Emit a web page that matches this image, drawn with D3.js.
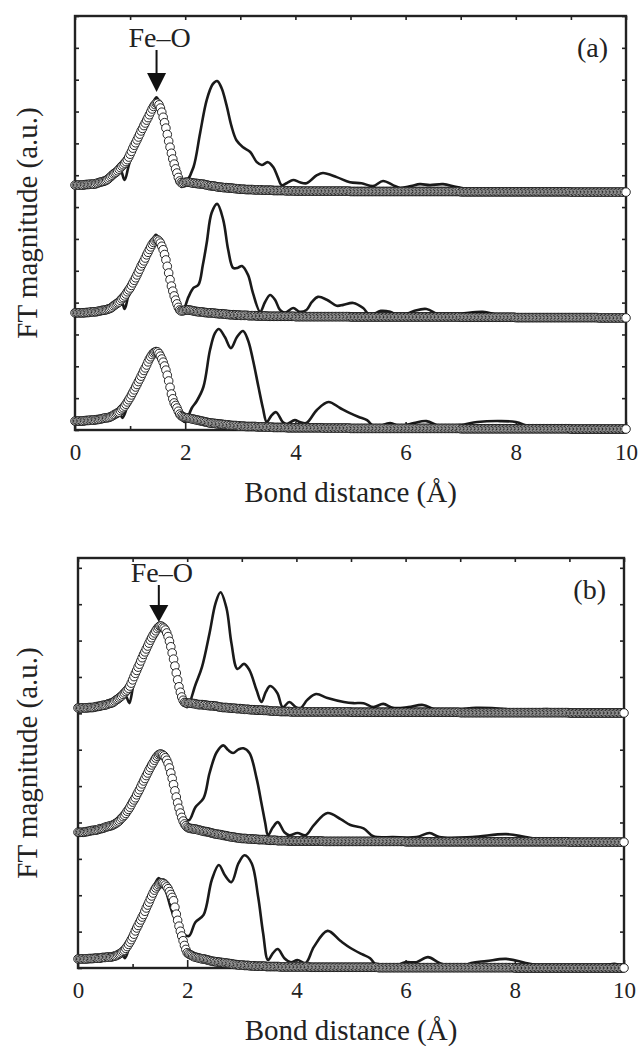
<!DOCTYPE html>
<html>
<head>
<meta charset="utf-8">
<script src="https://cdn.jsdelivr.net/npm/d3@7"></script>
<style>
  body { margin: 0; background: #fff; }
  svg text { font-family: "Liberation Serif", "Times New Roman", Times, "DejaVu Serif", serif; fill: #222; }
</style>
</head>
<body>
<script>
// bond distance grid of the fitted (circle) series, in Å
var fitStep = 0.025
var xTickLabels = [0, 2, 4, 6, 8, 10]
var xMinorTicks = [1, 3, 5, 7, 9]

// vertical offsets of the stacked spectra (bottom, middle, top)
var aOffsets = [0.03, 3.52, 7.47]
var bOffsets = [0.00, 3.46, 7.01]

// ---- panel (a): fitted Fe-O shell (circles), one value every fitStep, 0..10 Å
var aBotFit = [
  0.25,0.25,0.25,0.25,0.25,0.25,0.25,0.26,0.27,0.27,
  0.27,0.28,0.28,0.28,0.28,0.29,0.30,0.30,0.31,0.32,
  0.33,0.34,0.35,0.35,0.36,0.37,0.39,0.41,0.44,0.46,
  0.49,0.51,0.53,0.58,0.63,0.67,0.72,0.78,0.85,0.92,
  0.99,1.07,1.15,1.23,1.32,1.40,1.49,1.57,1.66,1.75,
  1.84,1.92,2.01,2.11,2.20,2.27,2.34,2.39,2.42,2.43,
  2.42,2.37,2.29,2.20,2.10,1.98,1.85,1.69,1.51,1.31,
  1.10,0.95,0.82,0.74,0.66,0.56,0.47,0.42,0.39,0.37,
  0.36,0.35,0.35,0.34,0.33,0.32,0.31,0.30,0.29,0.28,
  0.27,0.26,0.25,0.24,0.23,0.22,0.21,0.20,0.19,0.19,
  0.18,0.18,0.17,0.17,0.16,0.16,0.15,0.15,0.14,0.14,
  0.13,0.13,0.12,0.12,0.11,0.11,0.11,0.11,0.10,0.10,
  0.09,0.09,0.09,0.09,0.08,0.08,0.08,0.08,0.08,0.08,
  0.08,0.08,0.07,0.07,0.07,0.07,0.07,0.07,0.06,0.06,
  0.06,0.06,0.06,0.06,0.05,0.05,0.05,0.05,0.05,0.05,
  0.05,0.05,0.05,0.05,0.04,0.04,0.04,0.04,0.04,0.04,
  0.04,0.04,0.04,0.04,0.04,0.04,0.04,0.04,0.04,0.04,
  0.04,0.04,0.04,0.04,0.04,0.04,0.04,0.04,0.04,0.04,
  0.03,0.03,0.03,0.03,0.03,0.03,0.03,0.03,0.03,0.03,
  0.03,0.03,0.03,0.03,0.03,0.03,0.03,0.03,0.03,0.03,
  0.02,0.02,0.02,0.02,0.02,0.02,0.02,0.02,0.02,0.02,
  0.02,0.02,0.02,0.02,0.02,0.02,0.02,0.02,0.02,0.02,
  0.02,0.02,0.02,0.02,0.02,0.02,0.02,0.02,0.02,0.02,
  0.02,0.02,0.02,0.02,0.02,0.02,0.02,0.02,0.02,0.02,
  0.02,0.02,0.02,0.02,0.02,0.02,0.02,0.02,0.02,0.02,
  0.02,0.02,0.02,0.02,0.02,0.02,0.02,0.02,0.02,0.02,
  0.02,0.02,0.02,0.02,0.02,0.02,0.02,0.02,0.02,0.02,
  0.02,0.02,0.02,0.02,0.02,0.02,0.02,0.02,0.02,0.02,
  0.01,0.01,0.01,0.01,0.01,0.01,0.01,0.01,0.01,0.01,
  0.01,0.01,0.01,0.01,0.01,0.01,0.01,0.01,0.01,0.01,
  0.01,0.01,0.01,0.01,0.01,0.01,0.01,0.01,0.01,0.01,
  0.01,0.01,0.01,0.01,0.01,0.01,0.01,0.01,0.01,0.01,
  0.01,0.01,0.01,0.01,0.01,0.01,0.01,0.01,0.01,0.01,
  0.01,0.01,0.01,0.01,0.01,0.01,0.01,0.01,0.01,0.01,
  0.01,0.01,0.01,0.01,0.01,0.01,0.01,0.01,0.01,0.01,
  0.01,0.01,0.01,0.01,0.01,0.01,0.01,0.01,0.01,0.01,
  0.00,0.00,0.00,0.00,0.00,0.00,0.00,0.00,0.00,0.00,
  0.00,0.00,0.00,0.00,0.00,0.00,0.00,0.00,0.00,0.00,
  0.00,0.00,0.00,0.00,0.00,0.00,0.00,0.00,0.00,0.00,
  0.00,0.00,0.00,0.00,0.00,0.00,0.00,0.00,0.00,0.00,
  0.00]
var aMidFit = [
  0.16,0.16,0.16,0.16,0.16,0.16,0.16,0.16,0.17,0.17,
  0.17,0.18,0.19,0.19,0.19,0.19,0.20,0.21,0.22,0.23,
  0.24,0.24,0.25,0.26,0.28,0.29,0.31,0.34,0.38,0.41,
  0.44,0.47,0.50,0.55,0.60,0.64,0.69,0.75,0.82,0.88,
  0.94,1.02,1.10,1.18,1.26,1.35,1.44,1.53,1.63,1.71,
  1.79,1.88,1.98,2.06,2.15,2.23,2.31,2.37,2.42,2.45,
  2.45,2.41,2.35,2.25,2.14,1.99,1.82,1.62,1.41,1.20,
  1.00,0.84,0.69,0.56,0.44,0.33,0.25,0.22,0.22,0.23,
  0.25,0.25,0.25,0.25,0.24,0.23,0.22,0.21,0.20,0.20,
  0.19,0.19,0.19,0.18,0.17,0.17,0.16,0.16,0.16,0.16,
  0.15,0.15,0.14,0.14,0.13,0.13,0.13,0.13,0.12,0.12,
  0.11,0.11,0.10,0.10,0.10,0.10,0.09,0.09,0.09,0.09,
  0.08,0.08,0.08,0.08,0.08,0.08,0.07,0.07,0.07,0.07,
  0.07,0.07,0.06,0.06,0.06,0.06,0.06,0.06,0.06,0.06,
  0.05,0.05,0.05,0.05,0.05,0.05,0.05,0.05,0.05,0.05,
  0.05,0.05,0.05,0.05,0.05,0.05,0.05,0.05,0.05,0.05,
  0.04,0.04,0.04,0.04,0.04,0.04,0.04,0.04,0.04,0.04,
  0.04,0.04,0.04,0.04,0.04,0.04,0.04,0.04,0.04,0.04,
  0.04,0.04,0.04,0.04,0.04,0.04,0.04,0.04,0.04,0.04,
  0.04,0.04,0.04,0.04,0.04,0.04,0.04,0.04,0.04,0.04,
  0.03,0.03,0.03,0.03,0.03,0.03,0.03,0.03,0.03,0.03,
  0.03,0.03,0.03,0.03,0.03,0.03,0.03,0.03,0.03,0.03,
  0.03,0.03,0.03,0.03,0.03,0.03,0.03,0.03,0.03,0.03,
  0.03,0.03,0.03,0.03,0.03,0.03,0.03,0.03,0.03,0.03,
  0.03,0.03,0.03,0.03,0.03,0.03,0.03,0.03,0.03,0.03,
  0.03,0.03,0.03,0.03,0.03,0.03,0.03,0.03,0.03,0.03,
  0.03,0.03,0.03,0.03,0.03,0.03,0.03,0.03,0.03,0.03,
  0.03,0.03,0.03,0.03,0.03,0.03,0.03,0.03,0.03,0.03,
  0.02,0.02,0.02,0.02,0.02,0.02,0.02,0.02,0.02,0.02,
  0.02,0.02,0.02,0.02,0.02,0.02,0.02,0.02,0.02,0.02,
  0.02,0.02,0.02,0.02,0.02,0.02,0.02,0.02,0.02,0.02,
  0.02,0.02,0.02,0.02,0.02,0.02,0.02,0.02,0.02,0.02,
  0.01,0.01,0.01,0.01,0.01,0.01,0.01,0.01,0.01,0.01,
  0.01,0.01,0.01,0.01,0.01,0.01,0.01,0.01,0.01,0.01,
  0.01,0.01,0.01,0.01,0.01,0.01,0.01,0.01,0.01,0.01,
  0.01,0.01,0.01,0.01,0.01,0.01,0.01,0.01,0.01,0.01,
  0.01,0.01,0.01,0.01,0.01,0.01,0.01,0.01,0.01,0.01,
  0.01,0.01,0.01,0.01,0.01,0.01,0.01,0.01,0.01,0.01,
  0.00,0.00,0.00,0.00,0.00,0.00,0.00,0.00,0.00,0.00,
  0.00,0.00,0.00,0.00,0.00,0.00,0.00,0.00,0.00,0.00,
  0.00]
var aTopFit = [
  0.22,0.22,0.22,0.22,0.22,0.22,0.22,0.23,0.24,0.24,
  0.24,0.25,0.25,0.25,0.25,0.26,0.28,0.29,0.31,0.32,
  0.33,0.34,0.36,0.38,0.41,0.45,0.49,0.53,0.57,0.60,
  0.63,0.67,0.72,0.77,0.82,0.86,0.91,0.96,1.02,1.10,
  1.19,1.28,1.38,1.47,1.55,1.64,1.73,1.82,1.92,2.00,
  2.09,2.17,2.26,2.34,2.43,2.52,2.61,2.69,2.75,2.79,
  2.79,2.74,2.64,2.51,2.35,2.18,2.01,1.81,1.60,1.41,
  1.22,1.04,0.88,0.73,0.60,0.46,0.35,0.30,0.28,0.29,
  0.31,0.31,0.31,0.31,0.30,0.29,0.28,0.28,0.27,0.27,
  0.26,0.26,0.25,0.25,0.24,0.23,0.22,0.21,0.20,0.20,
  0.19,0.19,0.18,0.17,0.16,0.16,0.15,0.15,0.14,0.14,
  0.14,0.13,0.13,0.13,0.12,0.12,0.11,0.11,0.10,0.10,
  0.09,0.09,0.09,0.09,0.08,0.08,0.08,0.08,0.08,0.08,
  0.07,0.07,0.07,0.07,0.07,0.07,0.06,0.06,0.06,0.06,
  0.06,0.06,0.06,0.06,0.05,0.05,0.05,0.05,0.05,0.05,
  0.05,0.05,0.05,0.04,0.04,0.04,0.04,0.04,0.04,0.04,
  0.03,0.03,0.03,0.03,0.03,0.03,0.03,0.03,0.03,0.03,
  0.03,0.03,0.03,0.03,0.03,0.03,0.03,0.03,0.03,0.03,
  0.03,0.03,0.03,0.03,0.03,0.03,0.03,0.03,0.03,0.03,
  0.03,0.03,0.03,0.03,0.03,0.03,0.03,0.03,0.03,0.03,
  0.02,0.02,0.02,0.02,0.02,0.02,0.02,0.02,0.02,0.02,
  0.02,0.02,0.02,0.02,0.02,0.02,0.02,0.02,0.02,0.02,
  0.02,0.02,0.02,0.02,0.02,0.02,0.02,0.02,0.02,0.02,
  0.02,0.02,0.02,0.02,0.02,0.02,0.02,0.02,0.02,0.02,
  0.02,0.02,0.02,0.02,0.02,0.02,0.02,0.02,0.02,0.02,
  0.02,0.02,0.02,0.02,0.02,0.02,0.02,0.02,0.02,0.02,
  0.02,0.02,0.02,0.02,0.02,0.02,0.02,0.02,0.02,0.02,
  0.02,0.02,0.02,0.02,0.02,0.02,0.02,0.02,0.02,0.02,
  0.01,0.01,0.01,0.01,0.01,0.01,0.01,0.01,0.01,0.01,
  0.01,0.01,0.01,0.01,0.01,0.01,0.01,0.01,0.01,0.01,
  0.01,0.01,0.01,0.01,0.01,0.01,0.01,0.01,0.01,0.01,
  0.01,0.01,0.01,0.01,0.01,0.01,0.01,0.01,0.01,0.01,
  0.01,0.01,0.01,0.01,0.01,0.01,0.01,0.01,0.01,0.01,
  0.01,0.01,0.01,0.01,0.01,0.01,0.01,0.01,0.01,0.01,
  0.01,0.01,0.01,0.01,0.01,0.01,0.01,0.01,0.01,0.01,
  0.01,0.01,0.01,0.01,0.01,0.01,0.01,0.01,0.01,0.01,
  0.00,0.00,0.00,0.00,0.00,0.00,0.00,0.00,0.00,0.00,
  0.00,0.00,0.00,0.00,0.00,0.00,0.00,0.00,0.00,0.00,
  0.00,0.00,0.00,0.00,0.00,0.00,0.00,0.00,0.00,0.00,
  0.00,0.00,0.00,0.00,0.00,0.00,0.00,0.00,0.00,0.00,
  0.00]

// ---- panel (a): measured FT magnitude (solid lines), [distance, magnitude]
var aBotExp = [[0,0.25],[0.5,0.31],[0.72,0.45],[0.8,0.55],[0.86,0.35],[0.95,0.70],[1.1,1.32],[1.25,1.92],
  [1.38,2.32],[1.47,2.54],[1.57,2.17],[1.67,1.54],[1.77,0.91],[1.87,0.50],[1.95,0.28],[2.0,0.22],[2.12,0.66],
  [2.21,0.88],[2.33,1.32],[2.45,2.48],[2.54,3.01],[2.61,3.14],[2.72,2.89],[2.83,2.54],[2.94,2.89],[3.05,3.08],
  [3.14,2.79],[3.23,2.17],[3.33,1.32],[3.41,0.66],[3.48,0.22],[3.56,0.41],[3.65,0.53],[3.77,0.22],[3.84,0.16],
  [3.99,0.28],[4.08,0.22],[4.2,0.19],[4.39,0.60],[4.6,0.85],[4.81,0.66],[4.99,0.50],[5.15,0.38],[5.3,0.28],
  [5.44,0.06],[5.72,0.19],[5.9,0.09],[6.15,0.19],[6.38,0.25],[6.62,0.09],[7.0,0.13],[7.3,0.22],[7.71,0.25],
  [8.0,0.22],[8.3,0.06],[8.75,0.09],[9.2,0.03],[10,0]]
var aMidExp = [[0,0.16],[0.5,0.22],[0.75,0.42],[0.84,0.55],[0.9,0.28],[0.97,0.70],[1.1,1.22],[1.25,1.88],
  [1.38,2.35],[1.47,2.61],[1.57,2.29],[1.67,1.60],[1.77,0.85],[1.87,0.30],[1.94,0.16],[2.06,0.66],[2.15,0.94],
  [2.24,1.04],[2.32,1.66],[2.39,2.35],[2.48,3.30],[2.58,3.58],[2.69,3.08],[2.78,2.14],[2.87,1.57],[2.95,1.57],
  [3.03,1.63],[3.14,1.35],[3.23,0.78],[3.36,0.19],[3.45,0.50],[3.54,0.72],[3.63,0.57],[3.72,0.25],[3.81,0.16],
  [3.96,0.31],[4.08,0.19],[4.2,0.25],[4.3,0.50],[4.41,0.66],[4.57,0.57],[4.75,0.38],[4.87,0.41],[5.05,0.47],
  [5.23,0.31],[5.35,0.09],[5.55,0.22],[5.72,0.19],[5.9,0.06],[6.15,0.22],[6.38,0.28],[6.62,0.09],[7.0,0.13],
  [7.4,0.19],[7.7,0.09],[8.2,0.03],[9,0.03],[10,0]]
var aTopExp = [[0,0.22],[0.3,0.25],[0.5,0.33],[0.7,0.55],[0.82,0.70],[0.9,0.38],[0.97,0.80],[1.05,1.30],
  [1.2,1.92],[1.35,2.55],[1.48,2.98],[1.58,2.50],[1.68,1.75],[1.78,0.95],[1.87,0.35],[1.94,0.16],[2.02,0.31],
  [2.15,0.78],[2.27,1.85],[2.39,2.89],[2.5,3.39],[2.58,3.49],[2.66,3.27],[2.75,2.73],[2.84,2.07],[2.93,1.63],
  [3.05,1.41],[3.18,1.26],[3.3,0.94],[3.39,0.85],[3.5,0.94],[3.6,0.78],[3.68,0.47],[3.75,0.22],[3.84,0.28],
  [3.96,0.38],[4.08,0.31],[4.2,0.28],[4.39,0.53],[4.5,0.60],[4.75,0.47],[4.99,0.31],[5.2,0.28],[5.41,0.19],
  [5.59,0.35],[5.77,0.22],[5.9,0.13],[6.1,0.19],[6.26,0.25],[6.44,0.22],[6.68,0.25],[6.93,0.16],[7.3,0.06],
  [8,0.06],[9,0.03],[10,0]]

// ---- panel (b): fitted Fe-O shell (circles)
var bBotFit = [
  0.25,0.25,0.25,0.25,0.25,0.25,0.25,0.25,0.26,0.26,
  0.26,0.26,0.27,0.27,0.27,0.27,0.27,0.28,0.29,0.29,
  0.29,0.30,0.30,0.30,0.30,0.31,0.32,0.33,0.34,0.36,
  0.38,0.40,0.43,0.46,0.49,0.54,0.59,0.65,0.71,0.78,
  0.85,0.93,1.02,1.10,1.17,1.25,1.32,1.40,1.47,1.56,
  1.65,1.73,1.81,1.90,1.98,2.06,2.14,2.20,2.25,2.29,
  2.32,2.34,2.34,2.32,2.28,2.23,2.18,2.10,2.02,1.94,
  1.85,1.67,1.48,1.31,1.15,1.01,0.88,0.75,0.62,0.51,
  0.42,0.39,0.37,0.35,0.33,0.31,0.30,0.29,0.28,0.27,
  0.26,0.25,0.25,0.24,0.23,0.22,0.21,0.20,0.19,0.18,
  0.18,0.17,0.17,0.16,0.16,0.15,0.15,0.14,0.14,0.13,
  0.13,0.12,0.12,0.11,0.10,0.10,0.09,0.09,0.08,0.08,
  0.08,0.08,0.07,0.07,0.07,0.07,0.06,0.06,0.06,0.06,
  0.05,0.05,0.05,0.05,0.05,0.05,0.05,0.05,0.04,0.04,
  0.04,0.04,0.04,0.04,0.04,0.04,0.04,0.04,0.03,0.03,
  0.03,0.03,0.03,0.03,0.03,0.03,0.03,0.03,0.03,0.03,
  0.03,0.03,0.03,0.03,0.03,0.03,0.03,0.03,0.03,0.03,
  0.02,0.02,0.02,0.02,0.02,0.02,0.02,0.02,0.02,0.02,
  0.02,0.02,0.02,0.02,0.02,0.02,0.02,0.02,0.02,0.02,
  0.02,0.02,0.02,0.02,0.02,0.02,0.02,0.02,0.02,0.02,
  0.02,0.02,0.02,0.02,0.02,0.02,0.02,0.02,0.02,0.02,
  0.02,0.02,0.02,0.02,0.02,0.02,0.02,0.02,0.02,0.02,
  0.01,0.01,0.01,0.01,0.01,0.01,0.01,0.01,0.01,0.01,
  0.01,0.01,0.01,0.01,0.01,0.01,0.01,0.01,0.01,0.01,
  0.01,0.01,0.01,0.01,0.01,0.01,0.01,0.01,0.01,0.01,
  0.01,0.01,0.01,0.01,0.01,0.01,0.01,0.01,0.01,0.01,
  0.01,0.01,0.01,0.01,0.01,0.01,0.01,0.01,0.01,0.01,
  0.01,0.01,0.01,0.01,0.01,0.01,0.01,0.01,0.01,0.01,
  0.01,0.01,0.01,0.01,0.01,0.01,0.01,0.01,0.01,0.01,
  0.01,0.01,0.01,0.01,0.01,0.01,0.01,0.01,0.01,0.01,
  0.01,0.01,0.01,0.01,0.01,0.01,0.01,0.01,0.01,0.01,
  0.01,0.01,0.01,0.01,0.01,0.01,0.01,0.01,0.01,0.01,
  0.00,0.00,0.00,0.00,0.00,0.00,0.00,0.00,0.00,0.00,
  0.00,0.00,0.00,0.00,0.00,0.00,0.00,0.00,0.00,0.00,
  0.00,0.00,0.00,0.00,0.00,0.00,0.00,0.00,0.00,0.00,
  0.00,0.00,0.00,0.00,0.00,0.00,0.00,0.00,0.00,0.00,
  0.00,0.00,0.00,0.00,0.00,0.00,0.00,0.00,0.00,0.00,
  0.00,0.00,0.00,0.00,0.00,0.00,0.00,0.00,0.00,0.00,
  0.00,0.00,0.00,0.00,0.00,0.00,0.00,0.00,0.00,0.00,
  0.00,0.00,0.00,0.00,0.00,0.00,0.00,0.00,0.00,0.00,
  0.00]
var bMidFit = [
  0.27,0.27,0.27,0.27,0.27,0.28,0.29,0.29,0.30,0.31,
  0.32,0.32,0.33,0.33,0.34,0.35,0.37,0.37,0.38,0.39,
  0.41,0.42,0.43,0.44,0.45,0.46,0.48,0.50,0.52,0.55,
  0.58,0.62,0.66,0.70,0.74,0.79,0.85,0.90,0.96,1.03,
  1.10,1.16,1.22,1.30,1.37,1.44,1.52,1.60,1.68,1.75,
  1.83,1.90,1.98,2.05,2.12,2.18,2.25,2.31,2.36,2.40,
  2.42,2.42,2.40,2.37,2.32,2.25,2.16,2.04,1.90,1.75,
  1.58,1.41,1.24,1.08,0.93,0.80,0.68,0.58,0.50,0.45,
  0.41,0.39,0.38,0.37,0.37,0.36,0.36,0.35,0.34,0.33,
  0.32,0.31,0.30,0.29,0.29,0.28,0.27,0.26,0.25,0.24,
  0.23,0.22,0.22,0.21,0.21,0.20,0.19,0.18,0.18,0.17,
  0.16,0.15,0.15,0.14,0.14,0.13,0.12,0.12,0.11,0.11,
  0.10,0.10,0.10,0.10,0.09,0.09,0.09,0.09,0.08,0.08,
  0.08,0.08,0.07,0.07,0.07,0.07,0.07,0.07,0.06,0.06,
  0.05,0.05,0.05,0.05,0.05,0.05,0.04,0.04,0.04,0.04,
  0.04,0.04,0.04,0.04,0.03,0.03,0.03,0.03,0.03,0.03,
  0.03,0.03,0.03,0.03,0.03,0.03,0.03,0.03,0.03,0.03,
  0.03,0.03,0.03,0.03,0.03,0.03,0.03,0.03,0.03,0.03,
  0.02,0.02,0.02,0.02,0.02,0.02,0.02,0.02,0.02,0.02,
  0.02,0.02,0.02,0.02,0.02,0.02,0.02,0.02,0.02,0.02,
  0.02,0.02,0.02,0.02,0.02,0.02,0.02,0.02,0.02,0.02,
  0.02,0.02,0.02,0.02,0.02,0.02,0.02,0.02,0.02,0.02,
  0.02,0.02,0.02,0.02,0.02,0.02,0.02,0.02,0.02,0.02,
  0.02,0.02,0.02,0.02,0.02,0.02,0.02,0.02,0.02,0.02,
  0.01,0.01,0.01,0.01,0.01,0.01,0.01,0.01,0.01,0.01,
  0.01,0.01,0.01,0.01,0.01,0.01,0.01,0.01,0.01,0.01,
  0.01,0.01,0.01,0.01,0.01,0.01,0.01,0.01,0.01,0.01,
  0.01,0.01,0.01,0.01,0.01,0.01,0.01,0.01,0.01,0.01,
  0.01,0.01,0.01,0.01,0.01,0.01,0.01,0.01,0.01,0.01,
  0.01,0.01,0.01,0.01,0.01,0.01,0.01,0.01,0.01,0.01,
  0.01,0.01,0.01,0.01,0.01,0.01,0.01,0.01,0.01,0.01,
  0.01,0.01,0.01,0.01,0.01,0.01,0.01,0.01,0.01,0.01,
  0.01,0.01,0.01,0.01,0.01,0.01,0.01,0.01,0.01,0.01,
  0.01,0.01,0.01,0.01,0.01,0.01,0.01,0.01,0.01,0.01,
  0.01,0.01,0.01,0.01,0.01,0.01,0.01,0.01,0.01,0.01,
  0.01,0.01,0.01,0.01,0.01,0.01,0.01,0.01,0.01,0.01,
  0.00,0.00,0.00,0.00,0.00,0.00,0.00,0.00,0.00,0.00,
  0.00,0.00,0.00,0.00,0.00,0.00,0.00,0.00,0.00,0.00,
  0.00,0.00,0.00,0.00,0.00,0.00,0.00,0.00,0.00,0.00,
  0.00,0.00,0.00,0.00,0.00,0.00,0.00,0.00,0.00,0.00,
  0.00]
var bTopFit = [
  0.14,0.14,0.14,0.14,0.14,0.14,0.14,0.14,0.15,0.15,
  0.15,0.15,0.16,0.17,0.18,0.18,0.19,0.20,0.21,0.21,
  0.22,0.23,0.25,0.26,0.27,0.28,0.30,0.33,0.36,0.38,
  0.41,0.44,0.47,0.51,0.55,0.59,0.63,0.68,0.74,0.82,
  0.91,1.00,1.09,1.17,1.26,1.34,1.43,1.52,1.61,1.68,
  1.76,1.84,1.92,2.00,2.07,2.14,2.20,2.26,2.32,2.36,
  2.39,2.39,2.36,2.33,2.28,2.20,2.10,1.97,1.82,1.65,
  1.48,1.29,1.10,0.91,0.72,0.57,0.44,0.35,0.29,0.28,
  0.27,0.27,0.27,0.27,0.26,0.26,0.25,0.24,0.23,0.23,
  0.23,0.23,0.22,0.22,0.21,0.21,0.20,0.20,0.20,0.20,
  0.19,0.19,0.18,0.17,0.16,0.16,0.15,0.15,0.15,0.15,
  0.14,0.14,0.13,0.13,0.13,0.13,0.12,0.12,0.12,0.12,
  0.11,0.11,0.10,0.10,0.10,0.10,0.09,0.09,0.09,0.09,
  0.08,0.08,0.08,0.08,0.08,0.08,0.07,0.07,0.07,0.07,
  0.06,0.06,0.05,0.05,0.05,0.05,0.05,0.05,0.04,0.04,
  0.04,0.04,0.04,0.04,0.04,0.04,0.03,0.03,0.03,0.03,
  0.03,0.03,0.03,0.03,0.03,0.03,0.03,0.03,0.03,0.03,
  0.03,0.03,0.03,0.03,0.03,0.03,0.03,0.03,0.03,0.03,
  0.03,0.03,0.03,0.03,0.03,0.03,0.03,0.03,0.03,0.03,
  0.03,0.03,0.03,0.03,0.03,0.03,0.03,0.03,0.03,0.03,
  0.02,0.02,0.02,0.02,0.02,0.02,0.02,0.02,0.02,0.02,
  0.02,0.02,0.02,0.02,0.02,0.02,0.02,0.02,0.02,0.02,
  0.02,0.02,0.02,0.02,0.02,0.02,0.02,0.02,0.02,0.02,
  0.02,0.02,0.02,0.02,0.02,0.02,0.02,0.02,0.02,0.02,
  0.02,0.02,0.02,0.02,0.02,0.02,0.02,0.02,0.02,0.02,
  0.02,0.02,0.02,0.02,0.02,0.02,0.02,0.02,0.02,0.02,
  0.02,0.02,0.02,0.02,0.02,0.02,0.02,0.02,0.02,0.02,
  0.02,0.02,0.02,0.02,0.02,0.02,0.02,0.02,0.02,0.02,
  0.01,0.01,0.01,0.01,0.01,0.01,0.01,0.01,0.01,0.01,
  0.01,0.01,0.01,0.01,0.01,0.01,0.01,0.01,0.01,0.01,
  0.01,0.01,0.01,0.01,0.01,0.01,0.01,0.01,0.01,0.01,
  0.01,0.01,0.01,0.01,0.01,0.01,0.01,0.01,0.01,0.01,
  0.01,0.01,0.01,0.01,0.01,0.01,0.01,0.01,0.01,0.01,
  0.01,0.01,0.01,0.01,0.01,0.01,0.01,0.01,0.01,0.01,
  0.01,0.01,0.01,0.01,0.01,0.01,0.01,0.01,0.01,0.01,
  0.01,0.01,0.01,0.01,0.01,0.01,0.01,0.01,0.01,0.01,
  0.00,0.00,0.00,0.00,0.00,0.00,0.00,0.00,0.00,0.00,
  0.00,0.00,0.00,0.00,0.00,0.00,0.00,0.00,0.00,0.00,
  0.00,0.00,0.00,0.00,0.00,0.00,0.00,0.00,0.00,0.00,
  0.00,0.00,0.00,0.00,0.00,0.00,0.00,0.00,0.00,0.00,
  0.00]

// ---- panel (b): measured FT magnitude (solid lines)
var bBotExp = [[0,0.25],[0.5,0.30],[0.75,0.41],[0.8,0.43],[0.86,0.27],[0.95,0.62],[1.1,1.18],[1.25,1.73],
  [1.38,2.20],[1.48,2.47],[1.6,2.15],[1.7,1.65],[1.8,1.25],[1.9,0.98],[2.03,0.88],[2.15,1.26],[2.3,1.46],
  [2.45,2.42],[2.58,2.83],[2.69,2.55],[2.81,2.36],[2.94,2.88],[3.05,3.10],[3.18,2.88],[3.3,1.95],[3.39,0.96],
  [3.48,0.22],[3.57,0.41],[3.66,0.52],[3.78,0.27],[3.9,0.16],[4.02,0.22],[4.17,0.14],[4.32,0.58],[4.57,1.02],
  [4.81,0.74],[4.99,0.55],[5.2,0.38],[5.35,0.27],[5.48,0.05],[5.77,0.03],[5.99,0.16],[6.2,0.16],[6.41,0.30],
  [6.62,0.14],[6.93,0.00],[7.2,0.14],[7.48,0.19],[7.84,0.25],[8.2,0.14],[8.57,0.03],[9.0,0.05],[9.3,0.03],
  [9.66,0.08],[9.85,0.11],[10,0.00]]
var bMidExp = [[0,0.27],[0.5,0.38],[0.8,0.60],[1.0,1.05],[1.15,1.50],[1.3,1.95],[1.42,2.28],[1.5,2.40],
  [1.6,2.28],[1.7,1.84],[1.8,1.20],[1.9,0.78],[2.03,0.60],[2.15,0.96],[2.3,1.21],[2.41,1.90],[2.54,2.47],
  [2.66,2.66],[2.75,2.53],[2.84,2.45],[2.94,2.55],[3.03,2.58],[3.14,2.45],[3.27,1.76],[3.36,1.07],[3.43,0.52],
  [3.48,0.19],[3.57,0.41],[3.66,0.55],[3.78,0.27],[3.87,0.19],[4.02,0.25],[4.17,0.19],[4.32,0.47],[4.57,0.80],
  [4.81,0.63],[4.99,0.47],[5.23,0.38],[5.41,0.16],[5.77,0.14],[6.2,0.14],[6.44,0.25],[6.62,0.14],[7.22,0.14],
  [7.84,0.22],[8.2,0.14],[8.6,0.05],[10,0]]
var bTopExp = [[0,0.14],[0.5,0.22],[0.8,0.45],[0.88,0.45],[0.94,0.27],[1.02,0.80],[1.15,1.35],[1.3,1.90],
  [1.4,2.23],[1.48,2.47],[1.56,2.32],[1.66,1.90],[1.76,1.30],[1.86,0.60],[1.94,0.25],[2.0,0.16],[2.15,0.77],
  [2.27,1.26],[2.41,2.20],[2.52,3.02],[2.61,3.32],[2.72,2.88],[2.81,1.92],[2.92,1.21],[3.04,1.35],[3.14,1.18],
  [3.27,0.63],[3.36,0.30],[3.44,0.58],[3.52,0.74],[3.65,0.55],[3.75,0.16],[3.87,0.30],[3.99,0.16],[4.08,0.14],
  [4.2,0.36],[4.36,0.52],[4.57,0.41],[4.87,0.30],[5.05,0.27],[5.23,0.27],[5.41,0.16],[5.59,0.25],[5.77,0.14],
  [6.05,0.16],[6.32,0.22],[6.57,0.08],[7.0,0.11],[7.29,0.14],[7.84,0.11],[8.2,0.05],[8.57,0.11],[9.0,0.03],[10,0]]

var width = 640, height = 1046
var serif = '"Liberation Serif", "Times New Roman", Times, "DejaVu Serif", serif'

var panels = [
  {label: "(a)", left: 75, top: 16, right: 626, bottom: 430, ymax: 13,
   offsets: aOffsets, fits: [aBotFit, aMidFit, aTopFit], exps: [aBotExp, aMidExp, aTopExp],
   arrow: {textY: 47, lineTop: 50, headTop: 73, tip: 92}},
  {label: "(b)", left: 78, top: 558, right: 624, bottom: 968, ymax: 11.27,
   offsets: bOffsets, fits: [bBotFit, bMidFit, bTopFit], exps: [bBotExp, bMidExp, bTopExp],
   arrow: {textY: 582, lineTop: 585, headTop: 605, tip: 622}}
]

var svg = d3.select("body").append("svg")
    .attr("width", width).attr("height", height)
    .attr("font-family", serif)

panels.forEach(function(p){
  var w = p.right - p.left, h = p.bottom - p.top
  var g = svg.append("g").attr("transform", `translate(${p.left}, ${p.top})`)

  var x = d3.scaleLinear().domain([0, 10]).range([0, w])
  var y = d3.scaleLinear().domain([0, p.ymax]).range([h, 0])
  var yTicks = d3.range(0, Math.floor(p.ymax) + 1)

  // inward ticks on all four sides
  g.append("g").attr("transform", `translate(0, ${h})`)
    .call(d3.axisBottom(x).tickValues(xTickLabels).tickSize(-8).tickFormat(d3.format("d")))
  g.append("g").attr("transform", `translate(0, ${h})`)
    .call(d3.axisBottom(x).tickValues(xMinorTicks).tickSize(-4).tickFormat(""))
  g.append("g").call(d3.axisTop(x).tickValues(d3.range(0, 11)).tickSize(-4).tickFormat(""))
  g.append("g").call(d3.axisLeft(y).tickValues(yTicks).tickSize(-4).tickFormat(""))
  g.append("g").attr("transform", `translate(${w}, 0)`)
    .call(d3.axisRight(y).tickValues(yTicks).tickSize(-4).tickFormat(""))

  g.selectAll(".domain").remove()
  g.selectAll("g").attr("font-family", serif)
  g.selectAll(".tick line").attr("stroke", "#222").attr("stroke-width", 1.6)
  g.selectAll(".tick text").attr("y", 30).attr("dy", null)
    .attr("font-size", 23).attr("fill", "#222")

  g.append("rect").attr("width", w).attr("height", h)
    .attr("fill", "none").attr("stroke", "#222").attr("stroke-width", 2.4)

  var line = d3.line()
      .x(function(d){ return x(d[0]) })
      .curve(d3.curveCatmullRom.alpha(0.5))

  p.exps.forEach(function(series, k){
    var off = p.offsets[k]
    g.append("path").datum(series)
      .attr("d", line.y(function(d){ return y(off + d[1]) }))
      .attr("fill", "none").attr("stroke", "#1a1a1a").attr("stroke-width", 2.6)
      .attr("stroke-linejoin", "round")

    var pts = p.fits[k].map(function(v, i){ return [i * fitStep, off + v] })
    g.append("g").selectAll("circle").data(pts).enter()
      .append("circle")
        .attr("cx", function(d){ return x(d[0]) })
        .attr("cy", function(d){ return y(d[1]) })
        .attr("r", 4.3)
        .attr("fill", "#fff").attr("stroke", "#111").attr("stroke-width", 0.9)
  })

  // Fe-O annotation
  var ax = x(1.48) + p.left
  svg.append("text").attr("x", ax + 3).attr("y", p.arrow.textY)
    .attr("text-anchor", "middle").attr("font-size", 28).text("Fe–O")
  svg.append("line").attr("x1", ax).attr("x2", ax)
    .attr("y1", p.arrow.lineTop).attr("y2", p.arrow.headTop + 1)
    .attr("stroke", "#111").attr("stroke-width", 2)
  svg.append("path")
    .attr("d", `M${ax - 9.5},${p.arrow.headTop} L${ax + 9.5},${p.arrow.headTop} L${ax},${p.arrow.tip} Z`)
    .attr("fill", "#111")

  svg.append("text").attr("x", p.right - 18).attr("y", p.top + 41)
    .attr("text-anchor", "end").attr("font-size", 28).text(p.label)

  svg.append("text")
    .attr("transform", `translate(37, ${(p.top + p.bottom) / 2}) rotate(-90)`)
    .attr("text-anchor", "middle").attr("font-size", 29).text("FT magnitude (a.u.)")

  svg.append("text").attr("x", (p.left + p.right) / 2).attr("y", p.bottom + 72)
    .attr("text-anchor", "middle").attr("font-size", 29).text("Bond distance (Å)")
})
</script>
</body>
</html>
